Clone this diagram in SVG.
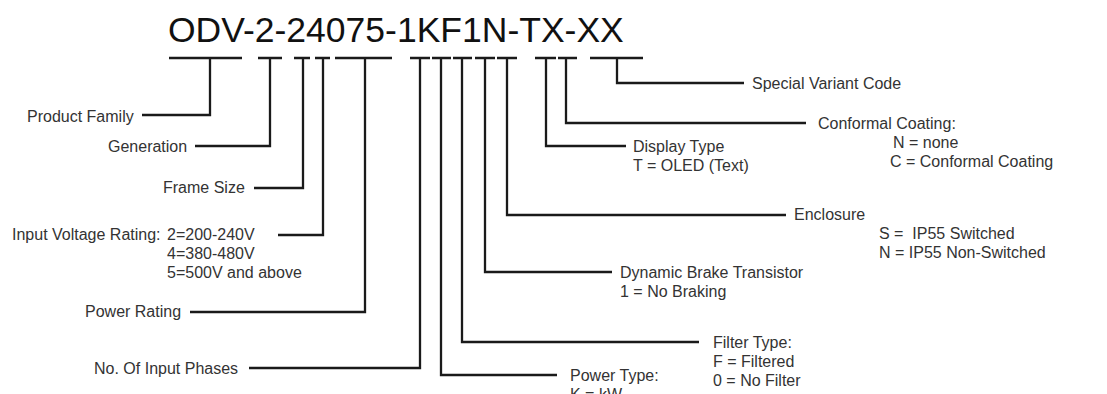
<svg xmlns="http://www.w3.org/2000/svg" width="1107" height="394" viewBox="0 0 1107 394">
<style>
.t{font-family:"Liberation Sans",Arial,sans-serif;font-size:16px;fill:#333}
.title{font-family:"Liberation Sans",Arial,sans-serif;font-size:35.5px;fill:#111}
.c{fill:none;stroke:#1a1a1a;stroke-width:2.3;stroke-linejoin:miter;stroke-linecap:butt}
</style>
<rect width="1107" height="394" fill="#fff"/>
<g id="title"><text class="title" x="168" y="41.5">ODV-2-24075-1KF1N-TX-XX</text></g>
<g id="connectors">
<path class="c" d="M169 58H242M210 58V115H142"/>
<path class="c" d="M258 58H282M270 58V146H195"/>
<path class="c" d="M294 58H310M303 58V188H254"/>
<path class="c" d="M315 58H330M323 58V235H278"/>
<path class="c" d="M335 58H392M365 58V312H190"/>
<path class="c" d="M410 58H430M420 58V368H249"/>
<path class="c" d="M432 58H451M441 58V375H557"/>
<path class="c" d="M453 58H472M462 58V342H699"/>
<path class="c" d="M475 58H495M485 58V272H612"/>
<path class="c" d="M497 58H517M507 58V215H786"/>
<path class="c" d="M535 58H556M546 58V146H626"/>
<path class="c" d="M558 58H577M566 58V123H806"/>
<path class="c" d="M590 58H643M617 58V83H744"/>
</g>
<g id="product-family"><text class="t" x="27" y="122">Product Family</text></g>
<g id="generation"><text class="t" x="108" y="152">Generation</text></g>
<g id="frame-size"><text class="t" x="163" y="193">Frame Size</text></g>
<g id="input-voltage"><text class="t" x="12" y="240">Input Voltage Rating:</text><text class="t" x="167" y="240">2=200-240V</text><text class="t" x="167" y="259">4=380-480V</text><text class="t" x="167" y="278">5=500V and above</text></g>
<g id="power-rating"><text class="t" x="85" y="317">Power Rating</text></g>
<g id="input-phases"><text class="t" x="94" y="374">No. Of Input Phases</text></g>
<g id="power-type"><text class="t" x="570" y="381">Power Type:</text><text class="t" x="570" y="400">K = kW</text></g>
<g id="filter-type"><text class="t" x="713" y="348">Filter Type:</text><text class="t" x="713" y="367">F = Filtered</text><text class="t" x="713" y="386">0 = No Filter</text></g>
<g id="brake"><text class="t" x="620" y="278">Dynamic Brake Transistor</text><text class="t" x="620" y="297">1 = No Braking</text></g>
<g id="enclosure"><text class="t" x="794" y="220">Enclosure</text><text class="t" x="879" y="239" xml:space="preserve">S =  IP55 Switched</text><text class="t" x="879" y="258">N = IP55 Non-Switched</text></g>
<g id="display-type"><text class="t" x="633" y="152">Display Type</text><text class="t" x="633" y="171">T = OLED (Text)</text></g>
<g id="conformal"><text class="t" x="818" y="129">Conformal Coating:</text><text class="t" x="893" y="148">N = none</text><text class="t" x="890" y="167">C = Conformal Coating</text></g>
<g id="special"><text class="t" x="752" y="89">Special Variant Code</text></g>
</svg>
